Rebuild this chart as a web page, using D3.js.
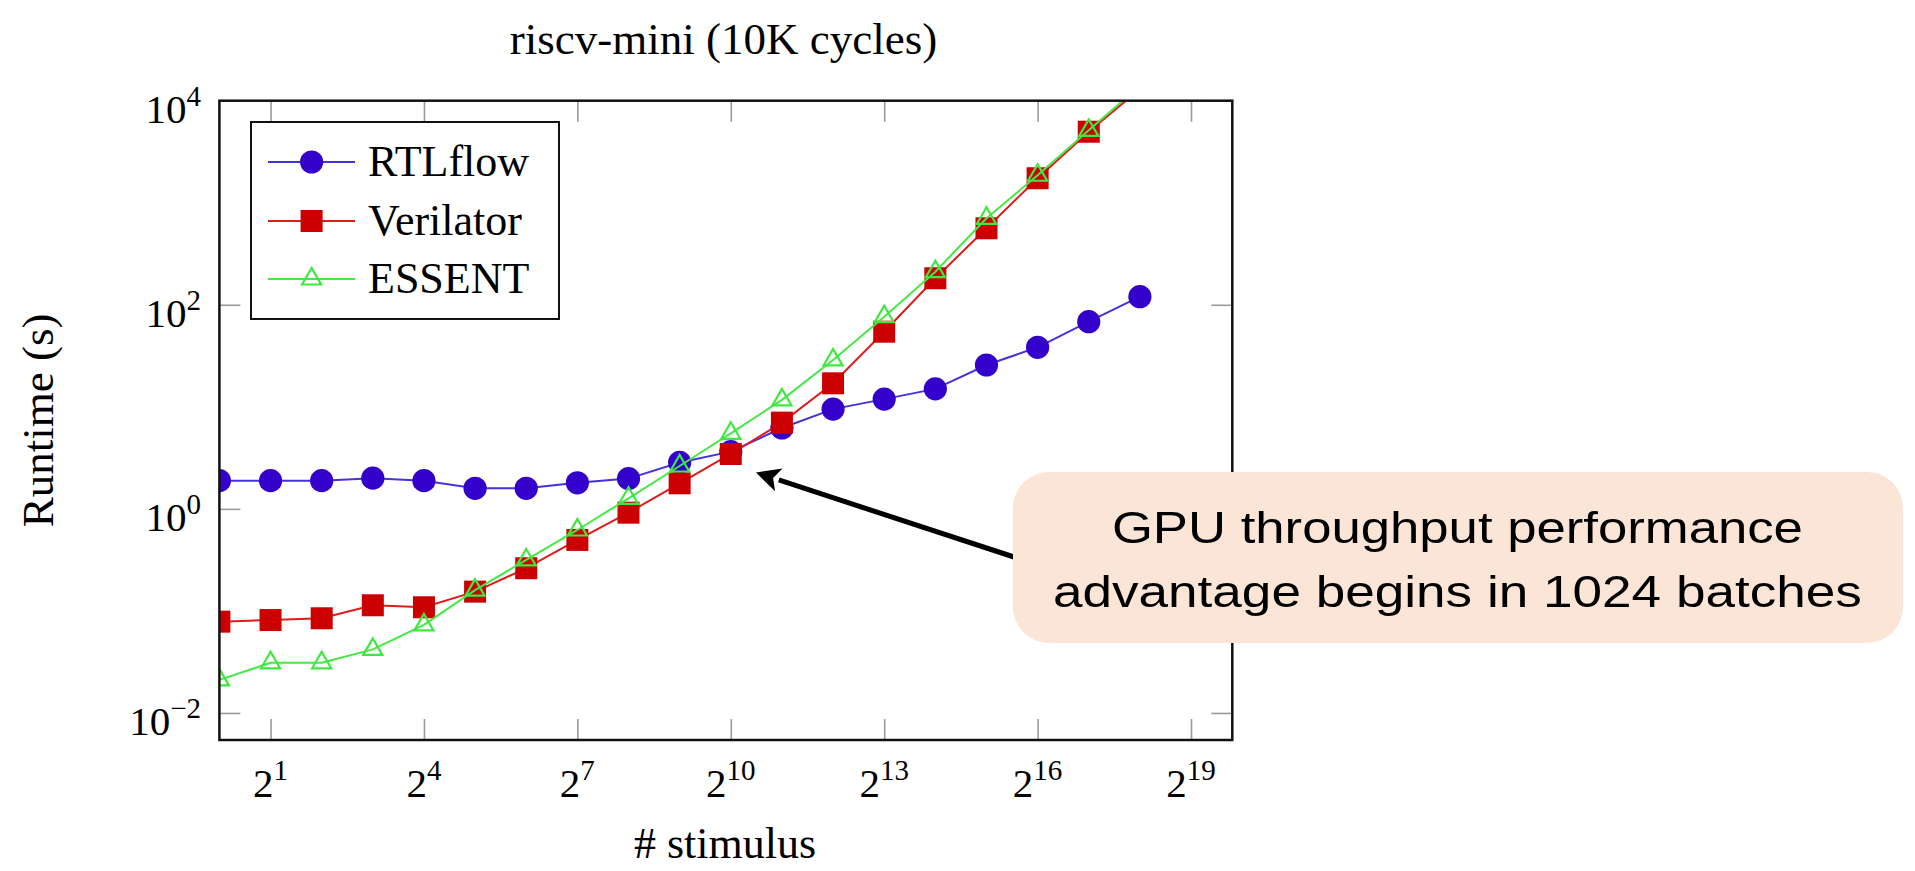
<!DOCTYPE html>
<html>
<head>
<meta charset="utf-8">
<script src="https://cdn.jsdelivr.net/npm/d3@7"></script>
<style>
  html, body { margin: 0; padding: 0; background: #fff; }
  svg { display: block; }
</style>
</head>
<body>
<svg id="chart" width="1915" height="871"></svg>
<script>
// ---------------- data ----------------
const title = "riscv-mini (10K cycles)";
const xLabel = "# stimulus";
const yLabel = "Runtime (s)";
const stimulus = [1, 2, 4, 8, 16, 32, 64, 128, 256, 512, 1024, 2048, 4096, 8192, 16384, 32768, 65536, 131072, 262144];
const seriesNames = ["RTLflow", "Verilator", "ESSENT"];
const rtlflow   = [1.89, 1.89, 1.89, 2.0, 1.89, 1.59, 1.59, 1.8, 1.98, 2.85, 3.64, 6.2, 9.5, 11.9, 15.0, 25.7, 38.3, 68.3, 120];
const verilator = [0.0785, 0.0814, 0.0847, 0.1136, 0.1086, 0.1545, 0.262, 0.496, 0.918, 1.78, 3.45, 7.0, 17.0, 54.5, 182, 562, 1738, 4966, 13000];
const essent    = [0.0211, 0.031, 0.031, 0.042, 0.073, 0.160, 0.316, 0.621, 1.27, 2.63, 5.5, 11.7, 28.8, 76.4, 211, 704, 1860, 5120, 14000];
const xTickValues = [2, 16, 128, 1024, 8192, 65536, 524288];
const xTickExps = ["1", "4", "7", "10", "13", "16", "19"];
const yTickValues = [0.01, 1, 100, 10000];
const yTickExps = ["\u22122", "0", "2", "4"];
const annotationLines = ["GPU throughput performance", "advantage begins in 1024 batches"];

// ---------------- layout ----------------
const svg = d3.select("#chart");
const L = 219.4, R = 1232.3, T = 100.7, B = 740;
const x = d3.scaleLog().base(2).domain([1, Math.pow(2, 19.807)]).range([L, R]);
const y = d3.scaleLog().base(10).domain([Math.pow(10, -2.265), 1e4]).range([B, T]);

const serif = "'Liberation Serif', 'DejaVu Serif', serif";
const sans = "'Liberation Sans', Arial, sans-serif";
const styles = [
  { line: "#4433dd", fill: "#3300cc", stroke: "#3300cc", mark: "circle" },
  { line: "#dd1c1c", fill: "#cc0000", stroke: "#cc0000", mark: "square" },
  { line: "#45e845", fill: "none", stroke: "#3fe83f", mark: "triangle" }
];

svg.append("defs").append("clipPath").attr("id", "plotclip")
  .append("rect").attr("x", L).attr("y", T).attr("width", R - L).attr("height", B - T);

// ticks (inward, gray) via d3 axes
const tickLen = 21;
function styleTicks(g) {
  g.select(".domain").remove();
  g.selectAll(".tick line").attr("stroke", "#9a9a9a").attr("stroke-width", 1.6);
  g.selectAll(".tick text").remove();
}
svg.append("g").attr("transform", `translate(0,${B})`)
  .call(d3.axisBottom(x).tickValues(xTickValues).tickSize(-tickLen).tickFormat(""))
  .call(styleTicks);
svg.append("g").attr("transform", `translate(0,${T})`)
  .call(d3.axisTop(x).tickValues(xTickValues).tickSize(-tickLen).tickFormat(""))
  .call(styleTicks);
svg.append("g").attr("transform", `translate(${L},0)`)
  .call(d3.axisLeft(y).tickValues(yTickValues).tickSize(-tickLen).tickFormat(""))
  .call(styleTicks);
svg.append("g").attr("transform", `translate(${R},0)`)
  .call(d3.axisRight(y).tickValues(yTickValues).tickSize(-tickLen).tickFormat(""))
  .call(styleTicks);

// tick labels
const xtl = svg.append("g").attr("font-family", serif).attr("fill", "#000");
xTickValues.forEach((v, i) => {
  const t = xtl.append("text").attr("x", x(v)).attr("y", 797).attr("text-anchor", "middle").attr("font-size", 41);
  t.append("tspan").text("2");
  t.append("tspan").attr("font-size", 29).attr("dy", -17).text(xTickExps[i]);
});
const ytl = svg.append("g").attr("font-family", serif).attr("fill", "#000");
yTickValues.forEach((v, i) => {
  const t = ytl.append("text").attr("x", 201).attr("y", y(v) + 22).attr("text-anchor", "end").attr("font-size", 41);
  t.append("tspan").text("10");
  t.append("tspan").attr("font-size", 29).attr("dy", -17).text(yTickExps[i]);
});

// series
function drawMark(g, s, cx, cy) {
  if (s.mark === "circle") {
    g.append("circle").attr("cx", cx).attr("cy", cy).attr("r", 11.6).attr("fill", s.fill);
  } else if (s.mark === "square") {
    g.append("rect").attr("x", cx - 11).attr("y", cy - 11).attr("width", 22).attr("height", 22).attr("fill", s.fill);
  } else {
    const r = 11;
    g.append("path")
      .attr("d", `M${cx},${cy - r}L${cx - 0.866 * r},${cy + 0.5 * r}L${cx + 0.866 * r},${cy + 0.5 * r}Z`)
      .attr("fill", "none").attr("stroke", s.stroke).attr("stroke-width", 2.2);
  }
}
const plot = svg.append("g").attr("clip-path", "url(#plotclip)");
[rtlflow, verilator, essent].forEach((vals, si) => {
  const s = styles[si];
  const pts = stimulus.map((d, i) => [d, vals[i]]);
  const line = d3.line().x(d => x(d[0])).y(d => y(d[1]));
  plot.append("path").datum(pts).attr("d", line)
    .attr("fill", "none").attr("stroke", s.line).attr("stroke-width", 2);
  const mg = plot.append("g");
  pts.forEach(p => drawMark(mg, s, x(p[0]), y(p[1])));
});

// frame
svg.append("rect").attr("x", L).attr("y", T).attr("width", R - L).attr("height", B - T)
  .attr("fill", "none").attr("stroke", "#111").attr("stroke-width", 2.5);

// legend
const lg = svg.append("g");
lg.append("rect").attr("x", 251).attr("y", 122).attr("width", 308).attr("height", 197)
  .attr("fill", "#fff").attr("stroke", "#111").attr("stroke-width", 2);
const rowY = [162, 221, 279];
seriesNames.forEach((n, i) => {
  const s = styles[i];
  lg.append("line").attr("x1", 268).attr("x2", 355).attr("y1", rowY[i]).attr("y2", rowY[i])
    .attr("stroke", s.line).attr("stroke-width", 2);
  drawMark(lg, s, 311.6, rowY[i]);
  lg.append("text").attr("x", 368).attr("y", rowY[i] + 14).attr("font-family", serif)
    .attr("font-size", 44).attr("fill", "#000").text(n);
});

// titles
svg.append("text").attr("x", 723.5).attr("y", 54).attr("text-anchor", "middle")
  .attr("font-family", serif).attr("font-size", 45).attr("fill", "#000").text(title);
svg.append("text").attr("x", 725).attr("y", 858).attr("text-anchor", "middle")
  .attr("font-family", serif).attr("font-size", 44).attr("fill", "#000").text(xLabel);
svg.append("text").attr("transform", `translate(53,${(T + B) / 2}) rotate(-90)`).attr("text-anchor", "middle")
  .attr("font-family", serif).attr("font-size", 45).attr("fill", "#000").text(yLabel);

// annotation arrow
const tail = [1014, 557], tip = [756, 472.5];
const ang = Math.atan2(tip[1] - tail[1], tip[0] - tail[0]);
const headLen = 24, headW = 12;
const base = [tip[0] - headLen * Math.cos(ang), tip[1] - headLen * Math.sin(ang)];
svg.append("line").attr("x1", tail[0]).attr("y1", tail[1]).attr("x2", base[0]).attr("y2", base[1])
  .attr("stroke", "#000").attr("stroke-width", 5);
svg.append("path").attr("d",
  `M${tip[0]},${tip[1]}` +
  `L${base[0] + headW * Math.sin(ang)},${base[1] - headW * Math.cos(ang)}` +
  `L${base[0] + 6 * Math.cos(ang)},${base[1] + 6 * Math.sin(ang)}` +
  `L${base[0] - headW * Math.sin(ang)},${base[1] + headW * Math.cos(ang)}Z`)
  .attr("fill", "#000");

// annotation box
svg.append("rect").attr("x", 1013).attr("y", 472).attr("width", 890).attr("height", 171)
  .attr("rx", 36).attr("ry", 36).attr("fill", "#FBE5D6");
const annLen = [691, 809];
const annY = [543, 607];
annotationLines.forEach((t, i) => {
  svg.append("text").attr("x", 1457.4).attr("y", annY[i]).attr("text-anchor", "middle")
    .attr("font-family", sans).attr("font-size", 44).attr("fill", "#000")
    .attr("textLength", annLen[i]).attr("lengthAdjust", "spacingAndGlyphs").text(t);
});
</script>
</body>
</html>
